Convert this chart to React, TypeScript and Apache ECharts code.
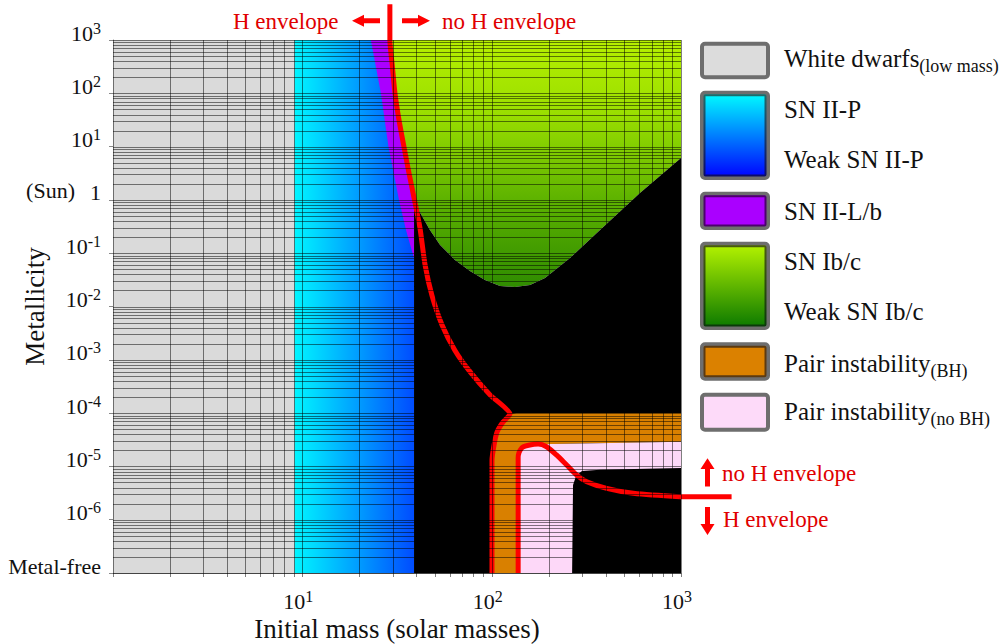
import { useEffect, useRef } from "react";
import * as echarts from "echarts";

const FONT = '"Liberation Serif", "Times New Roman", Times, serif';
const LINE_RED = "#ff0000";
const TEXT_RED = "#e00000";
const GRID_COLOR = "rgba(0,0,0,0.5)";

// Axis ranges: initial mass (solar masses) and metallicity (relative to the Sun)
const MASS_MIN = 1;
const MASS_MAX = 1000;
const Z_MIN = 1.001e-7;
const Z_MAX = 1000;

// Tick labels
const xTickValues = [1, 10, 100, 1000];
const xTickLabels = ["", "10^1", "10^2", "10^3"];
const yTickValues = [1e-7, 1e-6, 1e-5, 1e-4, 1e-3, 1e-2, 1e-1, 1, 10, 100, 1000];
const yTickLabels = ["Metal-free", "10^-6", "10^-5", "10^-4", "10^-3", "10^-2", "10^-1", "(Sun) 1", "10^1", "10^2", "10^3"];

// Regions, as [initial mass, metallicity] outlines
const whiteDwarfZone = [[1, 1e-7], [9.1, 1e-7], [9.1, 1000], [1, 1000]];
const snIIPZone = [[9.1, 1e-7], [38.9, 1e-7], [38.9, 1000], [9.1, 1000]];
// upper (no H envelope) boundary: red line from top to Z ~ 1
const hEnvelopeUpper = [
  [29, 1000], [29.9, 316], [30.85, 100], [32.4, 31.6], [34.4, 10], [36.6, 3.16], [39.1, 1],
];
const snIILbLeftEdge = [
  [23, 1000], [26, 100], [28.5, 10], [32.4, 1], [35.3, 0.27], [38.9, 0.08], [38.9, 0.8],
];
const snIILbZone = [...snIILbLeftEdge, ...[...hEnvelopeUpper].reverse()];
// lower edge of the SN Ib/c region (border with direct black hole)
const ibcLowerEdge = [
  [40.2, 0.745], [47.2, 0.272], [53.4, 0.1425], [64, 0.0746], [76.8, 0.0463], [92.2, 0.0314],
  [110.7, 0.0242], [132.8, 0.0232], [159.4, 0.0253], [191.3, 0.0343], [259.3, 0.0813],
  [373.5, 0.272], [607, 1.35], [1000, 6.1],
];
const snIbcZone = [...hEnvelopeUpper, ...ibcLowerEdge, [1000, 1000]];
const blackHoleZone = [[38.9, 1e-7], [38.9, 0.9], [39.1, 1], ...ibcLowerEdge, [1000, 1e-7]];
const pairBHZone = [
  [100.4, 1e-7], [100.4, 1.3e-5], [102.9, 2.5e-5], [106.7, 4.4e-5], [114.8, 6.8e-5], [125, 9.6e-5],
  [135, 1e-4], [1000, 1e-4], [1000, 2.9e-5], [176, 2.6e-5], [159, 2.52e-5], [144, 2.21e-5],
  [138, 1.44e-5], [138, 1e-7],
];
const pairNoBHZone = [
  [138, 1e-7], [138, 1.44e-5], [144, 2.21e-5], [159, 2.52e-5], [176, 2.6e-5], [1000, 2.9e-5],
  [1000, 9.3e-6], [373, 8.7e-6], [300, 8.2e-6], [279, 6.6e-6], [269, 4.5e-6], [266, 1e-7],
];

// Red boundary lines: H envelope / no H envelope
const envelopeLineHigh = [
  [29, 4700], ...hEnvelopeUpper, [41.8, 0.3], [44.5, 0.06], [48.4, 0.016], [54.7, 0.0045],
  [64, 0.0015], [76.8, 6e-4], [98, 2.2e-4], [125, 9.6e-5], [114.8, 6.8e-5], [106.7, 4.4e-5],
  [102.9, 2.5e-5], [100.4, 1.3e-5], [100.4, 1e-7],
];
const envelopeLineLow = [
  [138, 1e-7], [138, 1.44e-5], [144, 2.21e-5], [159, 2.52e-5], [176, 2.63e-5], [195, 2.34e-5],
  [220, 1.64e-5], [249, 1.06e-5], [281, 6.9e-6], [318, 5.16e-6], [405, 3.88e-6], [560, 3.13e-6],
  [988, 2.7e-6],
];
// the low line continues past the plot edge, to the side annotations
const envelopeLineLowExtension = [[988, 2.7e-6], [1850, 2.7e-6]];

// Legend
const legendLabels = [
  { main: "White dwarfs", sub: "(low mass)" },
  { main: "SN II-P" },
  { main: "Weak SN II-P" },
  { main: "SN II-L/b" },
  { main: "SN Ib/c" },
  { main: "Weak SN Ib/c" },
  { main: "Pair instability", sub: "(BH)" },
  { main: "Pair instability", sub: "(no BH)" },
];

// log grid values
const xGridValues: number[] = [];
for (let d = 0; d < 3; d++) for (let k = 1; k < 10; k++) xGridValues.push(k * Math.pow(10, d));
xGridValues.push(1000);
const yGridValues: number[] = [];
for (let d = -7; d < 3; d++) for (let k = 1; k < 10; k++) yGridValues.push(k * Math.pow(10, d));
yGridValues.push(1000);

const vGrad = (stops: [number, string][]) =>
  new echarts.graphic.LinearGradient(0, 0, 0, 1, stops.map(([offset, color]) => ({ offset, color })));
const hGrad = (stops: [number, string][]) =>
  new echarts.graphic.LinearGradient(0, 0, 1, 0, stops.map(([offset, color]) => ({ offset, color })));

function toRich(label: string): string {
  if (!label) return "";
  if (label.startsWith("(Sun)")) return "{sun|(Sun)}{b|1}";
  const m = label.match(/^10\^(.+)$/);
  if (m) return `{b|10}{s|${m[1]}}`;
  return `{b|${label}}`;
}

function labelFor(values: number[], labels: string[], v: number): string {
  let best = 0;
  let bestD = Infinity;
  values.forEach((t, i) => {
    const d = Math.abs(Math.log10(t) - Math.log10(v));
    if (d < bestD) {
      bestD = d;
      best = i;
    }
  });
  return bestD < 0.1 ? toRich(labels[best]) : "";
}

const tickRich = {
  b: { fontSize: 22, fontFamily: FONT, color: "#111", lineHeight: 20, verticalAlign: "bottom", padding: [0, 0, -4, 0] },
  s: { fontSize: 16, fontFamily: FONT, color: "#111", lineHeight: 16, verticalAlign: "top" },
  sun: { fontSize: 22, fontFamily: FONT, color: "#111", lineHeight: 20, verticalAlign: "top", padding: [0, 15, 0, 0] },
};

function zoneSeries(name: string, points: number[][], fill: any) {
  return {
    type: "custom",
    name,
    z: 1,
    silent: true,
    clip: false,
    data: [points[0]],
    renderItem: (_p: any, api: any) => ({
      type: "polygon",
      shape: { points: points.map((pt) => api.coord(pt)) },
      style: { fill, stroke: "none" },
    }),
  };
}

// map a point through the axes, extrapolating beyond the x range along the log scale
function coordBeyond(api: any, pt: number[]) {
  const a = api.coord([100, pt[1]]);
  const b = api.coord([1000, pt[1]]);
  const perDecade = b[0] - a[0];
  return [b[0] + (Math.log10(pt[0]) - 3) * perDecade, b[1]];
}

function buildOption() {
  const series: any[] = [
    zoneSeries("White dwarfs", whiteDwarfZone, "#dadada"),
    zoneSeries("SN II-P", snIIPZone, hGrad([[0, "#00f6ff"], [0.5, "#00a2ff"], [1, "#004cff"]])),
    zoneSeries("SN II-L/b", snIILbZone, "#aa00ff"),
    zoneSeries("SN Ib/c", snIbcZone, vGrad([[0, "#b6f000"], [0.3, "#9ade00"], [0.65, "#5db200"], [1, "#2f8c00"]])),
    zoneSeries("Black hole", blackHoleZone, "#000000"),
    zoneSeries("Pair instability (BH)", pairBHZone, "#d98000"),
    zoneSeries("Pair instability (no BH)", pairNoBHZone, "#fdd8f8"),
    {
      type: "line",
      name: "H envelope (high)",
      data: envelopeLineHigh,
      z: 3,
      silent: true,
      clip: false,
      symbol: "none",
      showSymbol: false,
      smooth: 0.2,
      lineStyle: { color: LINE_RED, width: 5, join: "round" },
    },
    {
      type: "line",
      name: "H envelope (low)",
      data: envelopeLineLow,
      z: 3,
      silent: true,
      clip: false,
      symbol: "none",
      showSymbol: false,
      smooth: 0.3,
      lineStyle: { color: LINE_RED, width: 5, join: "round" },
    },
    {
      type: "custom",
      name: "H envelope (low) extension",
      z: 3,
      silent: true,
      clip: false,
      data: [envelopeLineLowExtension[0]],
      renderItem: (_p: any, api: any) => {
        const pts = envelopeLineLowExtension.map((pt) => coordBeyond(api, pt));
        return {
          type: "polyline",
          shape: { points: pts },
          style: { stroke: LINE_RED, lineWidth: 5, fill: "none" },
        };
      },
    },
    {
      type: "custom",
      name: "vgrid",
      z: 4,
      silent: true,
      clip: false,
      data: xGridValues.map((v) => [v, 1]),
      renderItem: (_p: any, api: any) => {
        const v = api.value(0);
        const a = api.coord([v, Z_MAX]);
        const b = api.coord([v, Z_MIN]);
        const x = Math.round(a[0]) + 0.5;
        return {
          type: "line",
          shape: { x1: x, y1: a[1], x2: x, y2: b[1] + 4 },
          style: { stroke: GRID_COLOR, lineWidth: 1 },
        };
      },
    },
    {
      type: "custom",
      name: "hgrid",
      z: 4,
      silent: true,
      clip: false,
      data: yGridValues.map((v) => [1, v]),
      renderItem: (_p: any, api: any) => {
        const v = api.value(1);
        const a = api.coord([MASS_MIN, v]);
        const b = api.coord([MASS_MAX, v]);
        const y = Math.round(a[1]) + 0.5;
        return {
          type: "line",
          shape: { x1: a[0], y1: y, x2: b[0], y2: y },
          style: { stroke: GRID_COLOR, lineWidth: 1 },
        };
      },
    },
  ];

  // legend graphics
  const boxes = [
    { top: 41.7, bottom: 79.3, fill: "#dcdcdc", inner: null },
    { top: 90.7, bottom: 180, fill: vGrad([[0, "#00ffff"], [1, "#0000ff"]]), inner: vGrad([[0, "#1e6a6a"], [1, "#0c0c6a"]]) },
    { top: 191.7, bottom: 230, fill: "#aa00ff", inner: "#4c006e" },
    { top: 241.7, bottom: 330, fill: vGrad([[0, "#b6f400"], [1, "#0a7800"]]), inner: vGrad([[0, "#485a10"], [1, "#0a3a0a"]]) },
    { top: 342.3, bottom: 380.7, fill: "#db8100", inner: "#5c3a10" },
    { top: 392.7, bottom: 431.7, fill: "#fddaf9", inner: null },
  ];
  const textY = [58.5, 109.5, 159.5, 211, 261, 311.5, 363, 411.5];
  const graphic: any[] = [];
  boxes.forEach((bx) => {
    graphic.push({
      type: "rect",
      shape: { x: 702, y: bx.top + 2, width: 66, height: bx.bottom - bx.top - 4, r: 3 },
      style: { fill: bx.fill, stroke: "#6e6e6e", lineWidth: 4 },
      silent: true,
    });
    if (bx.inner) {
      graphic.push({
        type: "rect",
        shape: { x: 704.5, y: bx.top + 4.5, width: 61, height: bx.bottom - bx.top - 9, r: 1 },
        style: { fill: "none", stroke: bx.inner, lineWidth: 2 },
        silent: true,
      });
    }
  });
  legendLabels.forEach((lab, i) => {
    const style: any = lab.sub
      ? {
          text: `{m|${lab.main}}{s|${lab.sub}}`,
          rich: {
            m: { fontSize: 25, fontFamily: FONT, fill: "#111", lineHeight: 33 },
            s: { fontSize: 18, fontFamily: FONT, fill: "#111", lineHeight: 18, verticalAlign: "bottom" },
          },
          verticalAlign: "middle",
          align: "left",
        }
      : { text: lab.main, fontSize: 25, fontFamily: FONT, fill: "#111", verticalAlign: "middle", align: "left" };
    graphic.push({ type: "text", x: 784, y: textY[i], style, silent: true });
  });

  // annotations
  const annText = (text: string, x: number, y: number) => ({
    type: "text",
    x,
    y,
    silent: true,
    style: { text, fontSize: 23, fontFamily: FONT, fill: TEXT_RED, verticalAlign: "middle", align: "left" },
  });
  graphic.push(annText("H envelope", 233, 21));
  graphic.push(annText("no H envelope", 442, 21));
  graphic.push(annText("no H envelope", 722, 473));
  graphic.push(annText("H envelope", 723, 519.5));
  const arrow = (points: number[][]) => ({
    type: "polygon",
    silent: true,
    shape: { points },
    style: { fill: LINE_RED },
  });
  graphic.push(arrow([[352, 20.8], [364, 14.8], [364, 18.3], [380, 18.3], [380, 23.3], [364, 23.3], [364, 26.8]]));
  graphic.push(arrow([[430, 20.8], [418, 14.8], [418, 18.3], [402, 18.3], [402, 23.3], [418, 23.3], [418, 26.8]]));
  graphic.push(arrow([[707.5, 458.3], [714.5, 469], [710, 469], [710, 486.5], [705, 486.5], [705, 469], [700.5, 469]]));
  graphic.push(arrow([[707.5, 535], [714.5, 524], [710, 524], [710, 507], [705, 507], [705, 524], [700.5, 524]]));

  return {
    animation: false,
    backgroundColor: "#ffffff",
    textStyle: { fontFamily: FONT },
    grid: { left: 113, right: 325, top: 40, bottom: 71, containLabel: false, outerBoundsMode: "none" },
    xAxis: {
      type: "log",
      logBase: 10,
      min: MASS_MIN,
      max: MASS_MAX,
      splitNumber: 3,
      name: "Initial mass (solar masses)",
      nameLocation: "middle",
      nameGap: 42,
      nameMoveOverlap: false,
      nameTextStyle: { fontSize: 27, fontFamily: FONT, color: "#111" },
      axisLine: { show: true, lineStyle: { color: "#888", width: 1 } },
      axisTick: { show: false },
      splitLine: { show: false },
      axisLabel: {
        margin: 15,
        padding: [0, 8, 0, 0],
        formatter: (v: number) => labelFor(xTickValues, xTickLabels, v),
        rich: tickRich,
      },
    },
    yAxis: {
      type: "log",
      logBase: 10,
      min: Z_MIN,
      max: Z_MAX,
      splitNumber: 10,
      name: "Metallicity",
      nameLocation: "middle",
      nameGap: 65,
      nameRotate: 90,
      nameMoveOverlap: false,
      nameTextStyle: { fontSize: 27, fontFamily: FONT, color: "#111" },
      axisLine: { show: true, lineStyle: { color: "#888", width: 1 } },
      axisTick: { show: true, length: 4, lineStyle: { color: "#888" } },
      splitLine: { show: false },
      axisLabel: {
        margin: 12,
        verticalAlign: "bottom",
        formatter: (v: number) => labelFor(yTickValues, yTickLabels, v),
        rich: tickRich,
      },
    },
    series,
    graphic,
  };
}

export default function App() {
  const ref = useRef<HTMLDivElement>(null);
  useEffect(() => {
    if (!ref.current) return;
    const chart = echarts.init(ref.current, undefined, { renderer: "svg" });
    chart.setOption(buildOption() as any);
    return () => chart.dispose();
  }, []);
  return (
    <div
      ref={ref}
      style={{ position: "fixed", left: 0, top: 0, width: 1006, height: 644, background: "#fff" }}
    />
  );
}
